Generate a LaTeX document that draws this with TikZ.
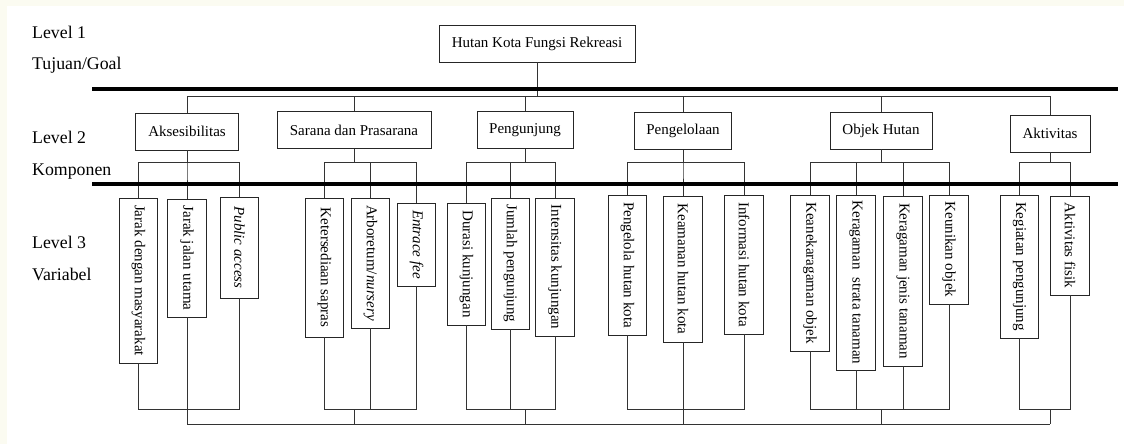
\documentclass[tikz,border=0pt]{standalone}
\usepackage{fontspec}
\setmainfont{Liberation Serif}
\usepackage{graphicx}
\definecolor{paper}{HTML}{FBFBF1}
\begin{document}
\begin{tikzpicture}[x=1pt, y=-1pt,
    lvltext/.style={anchor=base west, inner sep=0pt, font=\fontsize{17.8pt}{20pt}\selectfont},
    compbox/.style={draw=black!85, fill=white, line width=0.9pt, minimum height=37pt, inner sep=2pt, font=\fontsize{15pt}{18pt}\selectfont},
    leafbox/.style={draw=black!85, fill=white, line width=0.9pt, minimum width=38.5pt, inner sep=1pt, font=\fontsize{15pt}{18pt}\selectfont},
    link/.style={draw=black!80, line width=0.9pt},
    rulebar/.style={line width=3.2pt}]
  \fill[paper] (0,0) rectangle (1124,444);
  \fill[white] (7,6) rectangle (1124,444);
  \coordinate (bus1) at (0,96);
  \coordinate (bus2) at (0,162);
  \coordinate (bus3) at (0,409);
  \coordinate (bus4) at (0,424);
  \node[lvltext] (lv1) at (32,39) {Level 1};
  \node[lvltext] (lv1b) at (32,70) {Tujuan/Goal};
  \node[lvltext] (lv2) at (32,143) {Level 2};
  \node[lvltext] (lv2b) at (32,175) {Komponen};
  \node[lvltext] (lv3) at (32,248) {Level 3};
  \node[lvltext] (lv3b) at (32,280) {Variabel};
  \node[compbox, minimum width=196pt] (goal) at (537,43.5) {Hutan Kota Fungsi Rekreasi};
  \node[compbox, minimum width=103pt] (akses) at (187,131.5) {Aksesibilitas};
  \node[compbox, minimum width=154pt] (sarana) at (354,130) {Sarana dan Prasarana};
  \node[compbox, minimum width=96pt] (pengunj) at (525,130) {Pengunjung};
  \node[compbox, minimum width=97pt] (kelola) at (683,131) {Pengelolaan};
  \node[compbox, minimum width=102pt] (objek) at (881,130.5) {Objek Hutan};
  \node[compbox, minimum width=80pt] (aktiv) at (1050,133.5) {Aktivitas};
  \foreach \grp in {akses,sarana,pengunj,kelola,objek,aktiv} {
    \draw[link] (goal.south) -- (goal.south |- bus1) -| (\grp.north);
    \draw[link] (\grp |- bus3) -- (\grp |- bus4);
  }
  \foreach \nm/\grp/\cx/\cy/\len/\txt in {
      jdm/akses/138.5/280.5/165/Jarak dengan masyarakat,
      jju/akses/187/258/118/Jarak jalan utama,
      pa/akses/239.5/247.5/101/\textit{Public access},
      ks/sarana/324.5/267.5/139/Ketersediaan sapras,
      arb/sarana/370.5/263/130/{Arboretum/\textit{nursery}},
      ef/sarana/416.5/244.5/83/\textit{Entrace fee},
      dk/pengunj/466.5/264/122/Durasi kunjungan,
      jp/pengunj/510.5/263.5/131/Jumlah pengunjung,
      ik/pengunj/555/267/138/Intensitas kunjungan,
      phk/kelola/627.5/265/140/Pengelola hutan kota,
      khk/kelola/683/269/146/Keamanan hutan kota,
      ihk/kelola/744/264.5/139/Informasi hutan kota,
      ko/objek/810/273/156/Keanekaragaman objek,
      kst/objek/856/282.5/175/Keragaman \ strata tanaman,
      kjt/objek/903/281/170/Keragaman jenis tanaman,
      kuo/objek/949/249.5/109/Keunikan objek,
      kp/aktiv/1019.5/266.5/143/Kegiatan pengunjung,
      af/aktiv/1070/245.5/99/Aktivitas fisik} {
    \node[leafbox, minimum height=\len pt] (\nm) at (\cx,\cy) {\rotatebox{-90}{\txt}};
    \draw[link] (\grp.south) -- (\grp.south |- bus2) -| (\nm.north);
    \draw[link] (\nm.south) |- (\grp |- bus3);
  }
  \draw[link] (akses |- bus4) -- (aktiv |- bus4);
  \draw[rulebar] (92,89) -- (1118,89);
  \draw[rulebar] (92,184) -- (1118,184);
\end{tikzpicture}
\end{document}
